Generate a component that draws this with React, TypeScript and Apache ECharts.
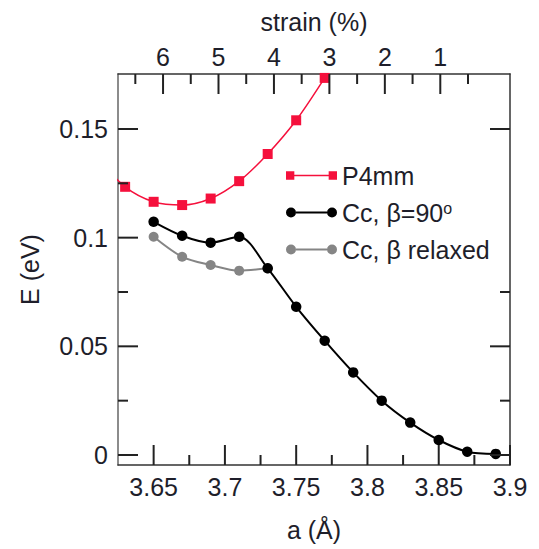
import React, { useEffect, useRef } from "react";
import * as echarts from "echarts";

// ---- data ----
const NAME_P4MM = "P4mm";
const NAME_CC90 = "Cc, β=90°";
const NAME_RELAX = "Cc, β relaxed";

const aP4mm = [3.61, 3.63, 3.65, 3.67, 3.69, 3.71, 3.73, 3.75, 3.77];
const eP4mm = [0.137, 0.1234, 0.1165, 0.115, 0.118, 0.126, 0.1385, 0.154, 0.1735];

const aCc90 = [3.65, 3.67, 3.69, 3.71, 3.73, 3.75, 3.77, 3.79, 3.81, 3.83, 3.85, 3.87, 3.89];
const eCc90 = [0.1073, 0.1009, 0.0977, 0.1004, 0.0859, 0.0682, 0.0526, 0.038, 0.025, 0.0149, 0.0069, 0.0015, 0.0005];

const aRelax = [3.65, 3.67, 3.69, 3.71, 3.73];
const eRelax = [0.1004, 0.0912, 0.0874, 0.0848, 0.0859];

// axis ranges / ticks
const A_MIN = 3.625;
const A_MAX = 3.9;
const E_MIN = -0.0046;
const E_MAX = 0.1753;
const A0 = 3.89; // reference lattice parameter for the strain axis

const aMajor = [3.65, 3.7, 3.75, 3.8, 3.85, 3.9];
const aMinor = [3.675, 3.725, 3.775, 3.825, 3.875];
const eMajor = [0, 0.05, 0.1, 0.15];
const eMinor = [0.025, 0.075, 0.125];
const eMajorRight = [0, 0.05, 0.15];
const eMinorRight = [0.025, 0.075];
const strainMajor = [1, 2, 3, 4, 5, 6];
const strainMinor = [0.5, 1.5, 2.5, 3.5, 4.5, 5.5, 6.5];

const strainOf = (a: number) => ((A0 - a) / A0) * 100;
const aOfStrain = (s: number) => A0 * (1 - s / 100);

const RED = "#f5103c";
const BLACK = "#000000";
const GRAY = "#858585";
const AXIS = "#333333";
const TEXT = "#1e1e2a";
const FONT = "Liberation Sans";
const MAJOR_LEN = 20;
const MINOR_LEN = 10;

const pairs = (xs: number[], ys: number[]) => xs.map((x, i) => [x, ys[i]]);

// tick marks: [a, E, side(0 bottom,1 top,2 left,3 right), length]
const tickData: number[][] = [
  ...aMajor.map((v) => [v, E_MIN, 0, MAJOR_LEN]),
  ...aMinor.map((v) => [v, E_MIN, 0, MINOR_LEN]),
  ...strainMajor.map((s) => [aOfStrain(s), E_MAX, 1, MAJOR_LEN]),
  ...strainMinor.map((s) => [aOfStrain(s), E_MAX, 1, MINOR_LEN]),
  ...eMajor.map((v) => [A_MIN, v, 2, MAJOR_LEN]),
  ...eMinor.map((v) => [A_MIN, v, 2, MINOR_LEN]),
  ...eMajorRight.map((v) => [A_MAX, v, 3, MAJOR_LEN]),
  ...eMinorRight.map((v) => [A_MAX, v, 3, MINOR_LEN]),
];

const ICON_SQ = "path://M0,0h8v8h-8z M8,3.3h33v1.4h-33z M41,0h8v8h-8z";
const ICON_CIRC =
  "path://M0,5a5,5 0 1,0 10,0a5,5 0 1,0 -10,0z M10,4h31v2h-31z M41,5a5,5 0 1,0 10,0a5,5 0 1,0 -10,0z";

const labelStyle = (vals: number[], margin: number) => ({
  show: true,
  customValues: vals.slice(),
  margin,
  fontFamily: FONT,
  fontSize: 25,
  color: TEXT,
  formatter: (v: number) => String(v),
});
const nameStyle = () => ({ fontFamily: FONT, fontSize: 25, color: TEXT });

export default function App() {
  const ref = useRef<HTMLDivElement>(null);

  useEffect(() => {
    if (!ref.current) return;
    const chart = echarts.init(ref.current, null, { renderer: "svg" });

    const option: any = {
      animation: false,
      grid: { left: 118, right: 29, top: 74, bottom: 84 },
      legend: {
        orient: "vertical",
        left: 281,
        top: 158,
        itemWidth: 51,
        itemHeight: 10,
        itemGap: 12,
        selectedMode: false,
        data: [
          { name: NAME_P4MM, icon: ICON_SQ },
          { name: NAME_CC90, icon: ICON_CIRC },
          { name: NAME_RELAX, icon: ICON_CIRC },
        ],
        formatter: (name: string) => (name === NAME_CC90 ? "Cc, β=90{sup|o}" : name),
        textStyle: {
          fontFamily: FONT,
          fontSize: 25,
          lineHeight: 25,
          color: TEXT,
          rich: {
            sup: { fontSize: 16, verticalAlign: "top", fontFamily: FONT, color: TEXT, lineHeight: 25 },
          },
        },
      },
      xAxis: [
        {
          type: "value",
          position: "bottom",
          min: A_MIN,
          max: A_MAX,
          name: "a (Å)",
          nameLocation: "middle",
          nameGap: 52,
          nameTextStyle: nameStyle(),
          axisLine: { show: true, onZero: false, lineStyle: { color: AXIS, width: 1.5 } },
          axisTick: { show: false },
          axisLabel: labelStyle(aMajor, 9),
          splitLine: { show: false },
        },
        {
          type: "value",
          position: "top",
          inverse: true,
          min: strainOf(A_MAX),
          max: strainOf(A_MIN),
          name: "strain (%)",
          nameLocation: "middle",
          nameGap: 40,
          nameTextStyle: nameStyle(),
          axisLine: { show: true, onZero: false, lineStyle: { color: AXIS, width: 1.5 } },
          axisTick: { show: false },
          axisLabel: labelStyle(strainMajor, 5),
          splitLine: { show: false },
        },
      ],
      yAxis: [
        {
          type: "value",
          position: "left",
          min: E_MIN,
          max: E_MAX,
          name: "E (eV)",
          nameLocation: "middle",
          nameGap: 76,
          nameTextStyle: nameStyle(),
          axisLine: { show: true, onZero: false, lineStyle: { color: "#666666", width: 1.5 } },
          axisTick: { show: false },
          axisLabel: labelStyle(eMajor, 10),
          splitLine: { show: false },
        },
        {
          type: "value",
          position: "right",
          min: E_MIN,
          max: E_MAX,
          axisLine: { show: true, onZero: false, lineStyle: { color: AXIS, width: 1.5 } },
          axisTick: { show: false },
          axisLabel: { show: false },
          splitLine: { show: false },
        },
      ],
      series: [
        {
          name: NAME_P4MM,
          type: "line",
          xAxisIndex: 0,
          yAxisIndex: 0,
          data: pairs(aP4mm, eP4mm),
          smooth: 0.3,
          clip: true,
          symbol: "rect",
          symbolSize: 10,
          color: RED,
          itemStyle: { color: RED },
          lineStyle: { color: RED, width: 1.5 },
          z: 3,
        },
        {
          name: NAME_RELAX,
          type: "line",
          xAxisIndex: 0,
          yAxisIndex: 0,
          data: pairs(aRelax, eRelax),
          smooth: 0.3,
          symbol: "circle",
          symbolSize: 10,
          color: GRAY,
          itemStyle: { color: GRAY },
          lineStyle: { color: GRAY, width: 2 },
          z: 2,
        },
        {
          name: NAME_CC90,
          type: "line",
          xAxisIndex: 0,
          yAxisIndex: 0,
          data: pairs(aCc90, eCc90),
          smooth: 0.3,
          symbol: "circle",
          symbolSize: 10.5,
          color: BLACK,
          itemStyle: { color: BLACK },
          lineStyle: { color: BLACK, width: 2 },
          z: 4,
        },
      ],
    };

    chart.setOption(option);

    // tick marks placed through the chart's own scales
    const elements: any[] = [];
    tickData.forEach((t) => {
      const p = chart.convertToPixel({ xAxisIndex: 0, yAxisIndex: 0 }, [t[0], t[1]]) as number[];
      if (!p || !isFinite(p[0]) || !isFinite(p[1])) return;
      const side = t[2];
      const len = t[3];
      let x2 = p[0];
      let y2 = p[1];
      if (side === 0) y2 = p[1] - len;
      else if (side === 1) y2 = p[1] + len;
      else if (side === 2) x2 = p[0] + len;
      else x2 = p[0] - len;
      elements.push({
        type: "line",
        silent: true,
        z: 100,
        shape: { x1: p[0], y1: p[1], x2, y2 },
        style: { stroke: "#222222", lineWidth: 2 },
      });
    });

    chart.setOption({ graphic: elements });
    return () => chart.dispose();
  }, []);

  return <div ref={ref} style={{ width: 539, height: 549, position: "absolute", left: 0, top: 0, background: "#fff" }} />;
}
